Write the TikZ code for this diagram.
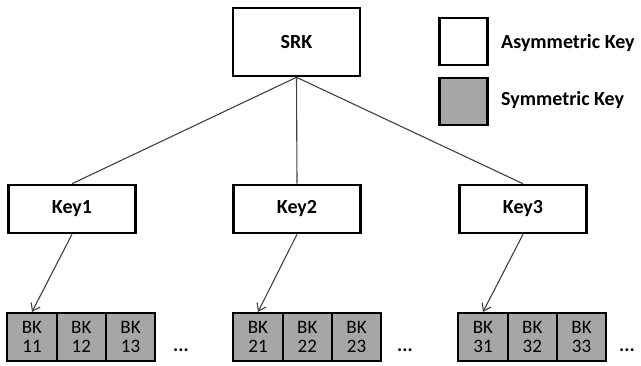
\documentclass[tikz,border=0pt]{standalone}
\usepackage{fontspec}
\setmainfont{Carlito}
\usetikzlibrary{arrows.meta}
\definecolor{symgray}{HTML}{A6A6A6}
\definecolor{conngray}{HTML}{404040}
\begin{document}
\begin{tikzpicture}[x=1pt,y=-1pt,
  keybox/.style={draw,line width=2.6pt,fill=white,minimum width=127pt,minimum height=48pt,inner sep=0pt,font=\fontsize{20}{22}\selectfont\bfseries},
  legbox/.style={draw,line width=2.6pt,minimum width=48pt,minimum height=47pt,inner sep=0pt},
  bkcell/.style={draw,line width=2.2pt,fill=symgray,minimum width=49.3pt,minimum height=48pt,inner sep=0pt,align=center,font=\fontsize{19}{19}\selectfont},
  legtext/.style={anchor=west,inner sep=0pt,font=\fontsize{20}{22}\selectfont\bfseries},
  dots/.style={inner sep=0pt,font=\fontsize{19.5}{22}\selectfont\bfseries},
  conn/.style={draw=conngray,line width=1.1pt},
  arr/.style={conn,-{Straight Barb[length=7pt,width=10pt]}}]
\useasboundingbox (0,0) rectangle (641,365);
% top node
\node[keybox,minimum height=68pt] (srk) at (296.5,42) {SRK};
% level 1
\node[keybox] (k1) at (72,209) {Key1};
\node[keybox] (k2) at (297,209) {Key2};
\node[keybox] (k3) at (523,209) {Key3};
% legend
\node[legbox,fill=white] (la) at (463.5,41.5) {};
\node[legbox,fill=symgray] (ls) at (463.5,101.5) {};
\node[legtext] (lat) at (501,43) {Asymmetric Key};
\node[legtext] (lst) at (501,100) {Symmetric Key};
% BK group 1
\node[bkcell] (b11) at (32,337) {BK\\11};
\node[bkcell] (b12) at (81.3,337) {BK\\12};
\node[bkcell] (b13) at (130.6,337) {BK\\13};
\node[dots] (d1) at (181,350) {...};
% BK group 2
\node[bkcell] (b21) at (258,337) {BK\\21};
\node[bkcell] (b22) at (307.3,337) {BK\\22};
\node[bkcell] (b23) at (356.6,337) {BK\\23};
\node[dots] (d2) at (405,350) {...};
% BK group 3
\node[bkcell] (b31) at (483,337) {BK\\31};
\node[bkcell] (b32) at (532.3,337) {BK\\32};
\node[bkcell] (b33) at (581.6,337) {BK\\33};
\node[dots] (d3) at (627,350) {...};
% connectors
\draw[conn] (srk.south) -- (k1.north);
\draw[conn] (srk.south) -- (k2.north);
\draw[conn] (srk.south) -- (k3.north);
\draw[arr] (k1.south) -- (b11.north);
\draw[arr] (k2.south) -- (b21.north);
\draw[arr] (k3.south) -- (b31.north);
\end{tikzpicture}
\end{document}
